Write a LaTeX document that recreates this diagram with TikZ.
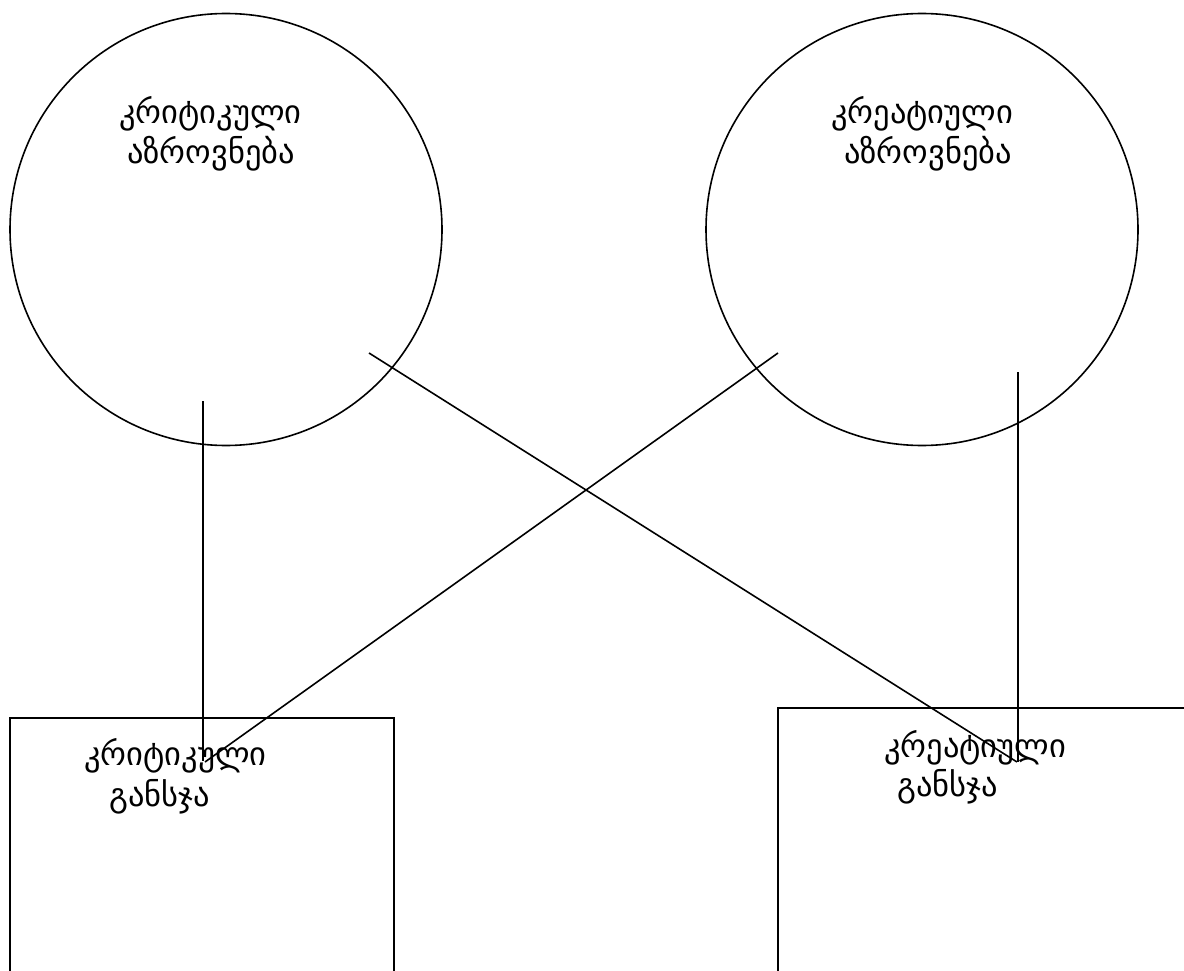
\documentclass[tikz,border=0pt]{standalone}
\usepackage{fontspec}
\newfontfamily\geofont{DejaVu Sans}
\begin{document}
\begin{tikzpicture}[x=1pt,y=-1pt,
  shape line/.style={draw=black,line width=1.6pt},
  conn/.style={draw=black,line width=1.6pt},
  lbl/.style={font=\geofont\fontsize{32.5}{36}\selectfont,anchor=west,inner sep=0pt}]
\useasboundingbox (0,0) rectangle (1184,971);
% circles
\node[shape line,circle,minimum size=432pt,inner sep=0pt] (c1) at (226,229.5) {};
\node[shape line,circle,minimum size=432pt,inner sep=0pt] (c2) at (922,229.5) {};
% rectangles
\draw[shape line] (10,971.5) -- (10,718) -- (394,718) -- (394,971.5);
\draw[shape line] (778,971.5) -- (778,708) -- (1186,708);
% labels
\node[lbl] (t1a) at (119,114) {კრიტიკული};
\node[lbl] (t1b) at (127,154) {აზროვნება};
\node[lbl] (t2a) at (831,114) {კრეატიული};
\node[lbl] (t2b) at (844,154) {აზროვნება};
\node[lbl] (t3a) at (84,756) {კრიტიკული};
\node[lbl] (t3b) at (109,797) {განსჯა};
\node[lbl] (t4a) at (884,748) {კრეატიული};
\node[lbl] (t4b) at (897,787) {განსჯა};
% connector ends
\coordinate (a1) at (203,401);
\coordinate (a2) at (203,761);
\coordinate (b1) at (369,353);
\coordinate (b2) at (1017,762);
\coordinate (d1) at (778,353);
\coordinate (d2) at (205,762);
\coordinate (e1) at (1018,372);
\coordinate (e2) at (1018,762);
\draw[conn] (a1) -- (a2);
\draw[conn] (b1) -- (b2);
\draw[conn] (d1) -- (d2);
\draw[conn] (e1) -- (e2);
\end{tikzpicture}
\end{document}
